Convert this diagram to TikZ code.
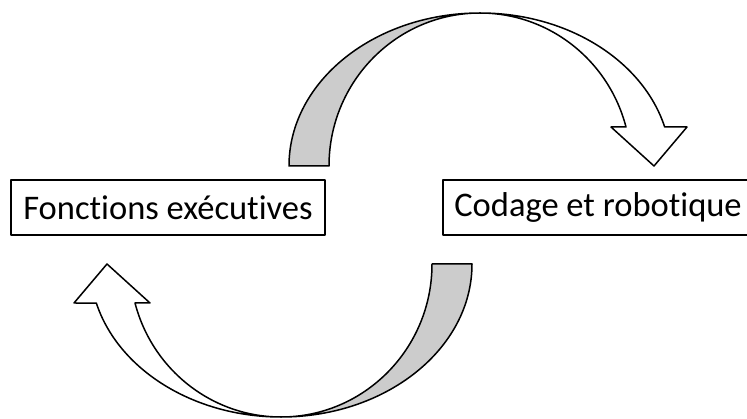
\documentclass[tikz,border=0pt]{standalone}
\usepackage{fontspec}
\setmainfont{Carlito}[Ligatures=NoCommon]
\begin{document}
\begin{tikzpicture}[line cap=round,line join=round,x=1pt,y=1pt,
	box/.style={draw,line width=1.7pt,minimum height=55pt,inner sep=0pt,font=\fontsize{34.5}{41}\selectfont},
	bandback/.style={draw,line width=1.5pt,fill=gray!40},
	bandfront/.style={draw,line width=1.5pt,fill=white},
	curvarrow/.pic={
		\draw [bandback] (-191,0) arc[start angle=180,end angle=90,x radius=191,y radius=153]
			arc[start angle=90,end angle=180,x radius=151,y radius=153] -- cycle;
		\draw [bandfront] (0,153) arc[start angle=90,end angle=14.77,x radius=191,y radius=153]
			-- (207,39) -- (174,0) -- (131,39) -- (146,39)
			arc[start angle=14.77,end angle=90,x radius=151,y radius=153] -- cycle;
	}]
			\useasboundingbox (0,0) rectangle (747,418);
			\clip (0,0) rectangle (747,418);
			\node [box,minimum width=314pt] (fonctions) at (168,210.5) {Fonctions exécutives};
			\node [box,minimum width=310pt] (codage) at (598,210.5) {Codage et robotique};
			\pic at (480,252) {curvarrow};
			\pic [rotate=180] at (281,154) {curvarrow};
			\end{tikzpicture}
\end{document}
